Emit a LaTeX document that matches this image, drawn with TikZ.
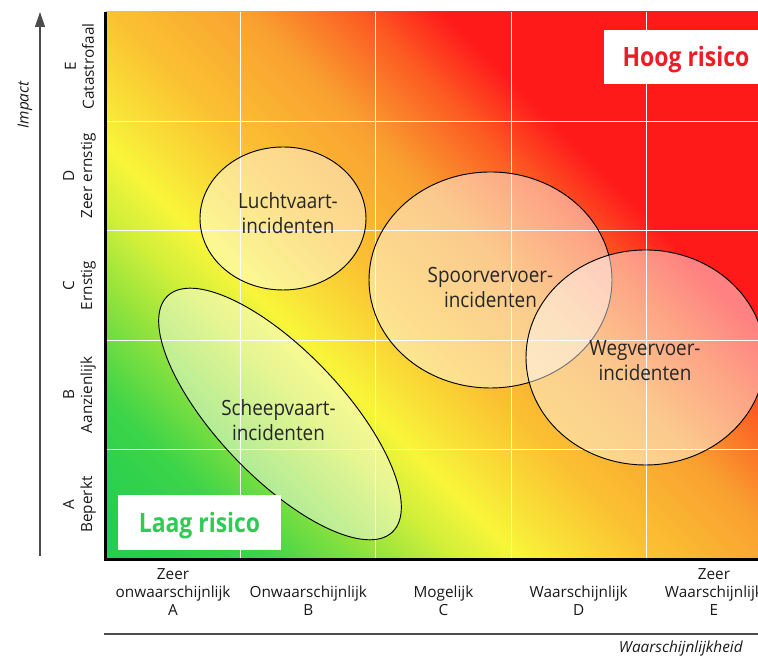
\documentclass[tikz,border=0pt]{standalone}
\usepackage{fontspec}
\setmainfont{Open Sans}
\newfontfamily\zonefont[FakeStretch=0.9]{Open Sans}
\newfontfamily\riskfont[FakeStretch=0.86]{Open Sans}
\usetikzlibrary{shapes.geometric,arrows.meta}

\definecolor{riskgreen}{HTML}{22CF50}
\definecolor{riskgreenb}{HTML}{3DD449}
\definecolor{risklime}{HTML}{9AE43C}
\definecolor{risklimeb}{HTML}{D2EF3A}
\definecolor{riskyellow}{HTML}{F8F53A}
\definecolor{riskamber}{HTML}{FBC232}
\definecolor{riskorange}{HTML}{F9A030}
\definecolor{riskorangered}{HTML}{FC5A22}
\definecolor{riskred}{HTML}{FF1A1A}
\definecolor{hoogred}{HTML}{EE1C25}
\definecolor{laaggreen}{HTML}{2ECC55}

% diagonal risk field, green (low) to red (high)
\pgfdeclarehorizontalshading{riskscale}{100bp}{color(0bp)=(riskgreen); color(21.7bp)=(riskgreen);
  color(27.75bp)=(riskgreenb); color(33.8bp)=(risklime); color(37.35bp)=(risklimeb);
  color(40.6bp)=(riskyellow); color(47.35bp)=(riskamber); color(54.5bp)=(riskorange);
  color(60.3bp)=(riskorangered); color(64.4bp)=(riskred); color(100bp)=(riskred)}

\tikzset{
  gridline/.style={white, line width=0.75pt},
  axisline/.style={black!70, line width=0.9pt},
  zone/.style={ellipse, draw=black, line width=0.7pt, fill=white, fill opacity=0.45, inner sep=0pt},
  zonetext/.style={font=\zonefont\fontsize{15.75}{18.75}\selectfont, align=center, text=black!85, inner sep=0pt},
  axislabel/.style={font=\fontsize{11.5}{13.5}\selectfont, align=center, inner sep=0pt, text=black!90},
  riskbox/.style={fill=white, font=\riskfont\bfseries\fontsize{20}{24}\selectfont, inner sep=0pt,
    text height=14.3pt, text depth=0pt},
}

\begin{document}
\begin{tikzpicture}[x=0.75pt,y=0.75pt]
  \useasboundingbox (0,0) rectangle (758,656);
  % Colour field
  \begin{scope}
    \clip (105.5,96.5) rectangle (781.5,644);
    \shade[shading=riskscale, shading angle=45] (82,20.5) rectangle (782,720.5);
  \end{scope}
  % Grid
  \foreach \gx in {240.7,375.9,511.1,646.3}
    \draw[gridline] (\gx,96.5) -- (\gx,644);
  \foreach \gy in {206,315.5,425,534.5}
    \draw[gridline] (105.5,\gy) -- (781.5,\gy);
  % Frame
  \draw[line width=1.6pt] (105.5,644) -- (105.5,96.5) -- (781.5,96.5);

  % Zones
  \node[zone, minimum width=124.5pt, minimum height=107.25pt] (lucht) at (283,437.5) {};
  \node[zone, minimum width=182.25pt, minimum height=162pt] (spoor) at (490.5,376) {};
  \node[zone, minimum width=179.25pt, minimum height=161.25pt] (weg) at (645.5,298.5) {};
  \node[zone, rotate=-46.4, minimum width=244.5pt, minimum height=94.5pt] (schip) at (280,242) {};
  \node[zonetext] (luchttxt) at (288,443) {Luchtvaart-\\incidenten};
  \node[zonetext] (spoortxt) at (490.5,368.5) {Spoorvervoer-\\incidenten};
  \node[zonetext] (wegtxt) at (645,295.5) {Wegvervoer-\\incidenten};
  \node[zonetext] (schiptxt) at (278.5,235.5) {Scheepvaart-\\incidenten};

  % Risk boxes
  \node[riskbox, minimum width=122.25pt, minimum height=41.25pt, text=laaggreen] (laag) at (199.5,133.5) {Laag risico};
  \node[riskbox, minimum width=123pt, minimum height=40.5pt, text=hoogred] (hoog) at (686,599) {Hoog risico};

  % Axes
  \coordinate (ybot) at (40,100);
  \coordinate (ytop) at (40,644);
  \draw[axisline, -{Triangle[length=11.25pt,width=7.5pt]}] (ybot) -- (ytop);
  \coordinate (xleft) at (104,22);
  \coordinate (xright) at (790,22);
  \draw[axisline] (xleft) -- (xright);
  \node[axislabel, font=\itshape\fontsize{11.5}{13.5}\selectfont, rotate=90] (impact) at (25,551) {Impact};
  \node[axislabel, font=\itshape\fontsize{11.5}{13.5}\selectfont, anchor=base east] (kans) at (743,3) {Waarschijnlijkheid};

  % Impact levels
  \foreach \lvl/\name [count=\i from 0] in {A/Beperkt, B/Aanzienlijk, C/Ernstig, D/Zeer ernstig, E/Catastrofaal}
    \node[axislabel, rotate=90] (imp\lvl) at (79.5,{151.5+\i*109.5}) {\lvl\\\name};
  % Likelihood levels
  \foreach \lvl/\name [count=\i from 0] in {A/Zeer\\onwaarschijnlijk, B/Onwaarschijnlijk, C/Mogelijk, D/Waarschijnlijk, E/Zeer\\Waarschijnlijk}
    \node[axislabel, anchor=south] (kans\lvl) at ({173.1+\i*135.2},40) {\name\\\lvl};
\end{tikzpicture}
\end{document}
